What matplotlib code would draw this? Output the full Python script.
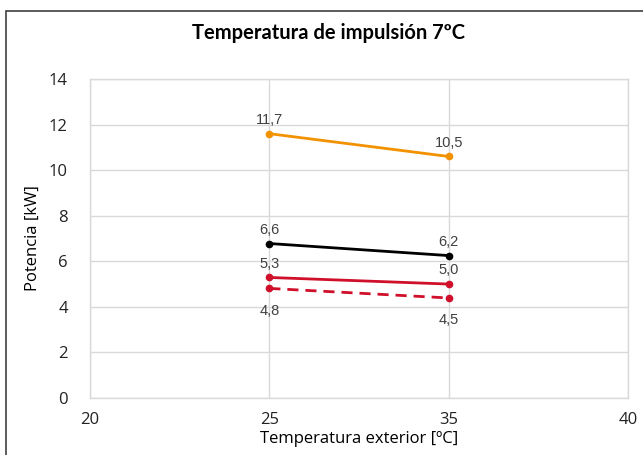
import matplotlib
matplotlib.use("Agg")
import matplotlib.pyplot as plt
from matplotlib.patches import Rectangle

categories = ["20", "25", "35", "40"]
x_idx = [1, 2]  # positions of 25 and 35

orange_vals = [11.6, 10.6]
orange_labels = ["11,7", "10,5"]
black_vals = [6.78, 6.25]
black_labels = ["6,6", "6,2"]
red_vals = [5.29, 5.0]
red_labels = ["5,3", "5,0"]
dashed_vals = [4.81, 4.39]
dashed_labels = ["4,8", "4,5"]

yticks = [0, 2, 4, 6, 8, 10, 12, 14]

W, H = 643, 455
fig = plt.figure(figsize=(W / 100, H / 100), dpi=100)
ax = fig.add_axes([90 / W, 1 - 398 / H, (628 - 90) / W, (398 - 79) / H])

grid_c = "#d9d9d9"
for s in ax.spines.values():
    s.set_color(grid_c)
    s.set_linewidth(1)
ax.set_xlim(0, 3)
ax.set_ylim(0, 14)
ax.set_xticks(range(len(categories)))
ax.set_xticklabels(categories)
ax.set_yticks(yticks)
ax.grid(True, color=grid_c, linewidth=1)
ax.set_axisbelow(True)
ax.tick_params(length=0, labelsize=12, colors="#222222")
ax.tick_params(axis="x", pad=10)
ax.tick_params(axis="y", pad=16)
for lab in ax.get_xticklabels() + ax.get_yticklabels():
    lab.set_fontfamily("Open Sans")

orange = "#F39200"
red = "#D0102A"
ax.plot(x_idx, orange_vals, color=orange, lw=2, marker="o", ms=4.5, clip_on=False)
ax.plot(x_idx, black_vals, color="black", lw=2, marker="o", ms=4.5, clip_on=False)
ax.plot(x_idx, red_vals, color=red, lw=2, marker="o", ms=4.5, clip_on=False)
ax.plot(x_idx, dashed_vals, color=red, lw=2, ls=(0, (4, 2.5)), marker="o", ms=4.5, clip_on=False)

lab_kw = dict(fontsize=10.5, color="#404040", ha="center", family="Liberation Sans")
for vals, labs, off in [(orange_vals, orange_labels, 5), (black_vals, black_labels, 5),
                        (red_vals, red_labels, 5), (dashed_vals, dashed_labels, -11)]:
    for xi, v, t in zip(x_idx, vals, labs):
        ax.annotate(t, (xi, v), xytext=(0, off), textcoords="offset points",
                    va="bottom" if off > 0 else "top", **lab_kw)

ax.set_xlabel("Temperatura exterior [ºC]", fontsize=12, family="Open Sans", labelpad=2)
ax.set_ylabel("Potencia [kW]", fontsize=12, family="Open Sans", labelpad=6)

fig.text(328 / W, 1 - 33 / H, "Temperatura de impulsión 7ºC", ha="center", va="center",
         fontsize=14.5, family="Lato", fontweight="bold")

fig.patches.append(Rectangle((6 / W, -0.05), 1.2, (H - 11) / H + 0.05,
                             transform=fig.transFigure, fill=False,
                             edgecolor="#404040", linewidth=1.2))

fig.savefig("out.png", dpi=100)
